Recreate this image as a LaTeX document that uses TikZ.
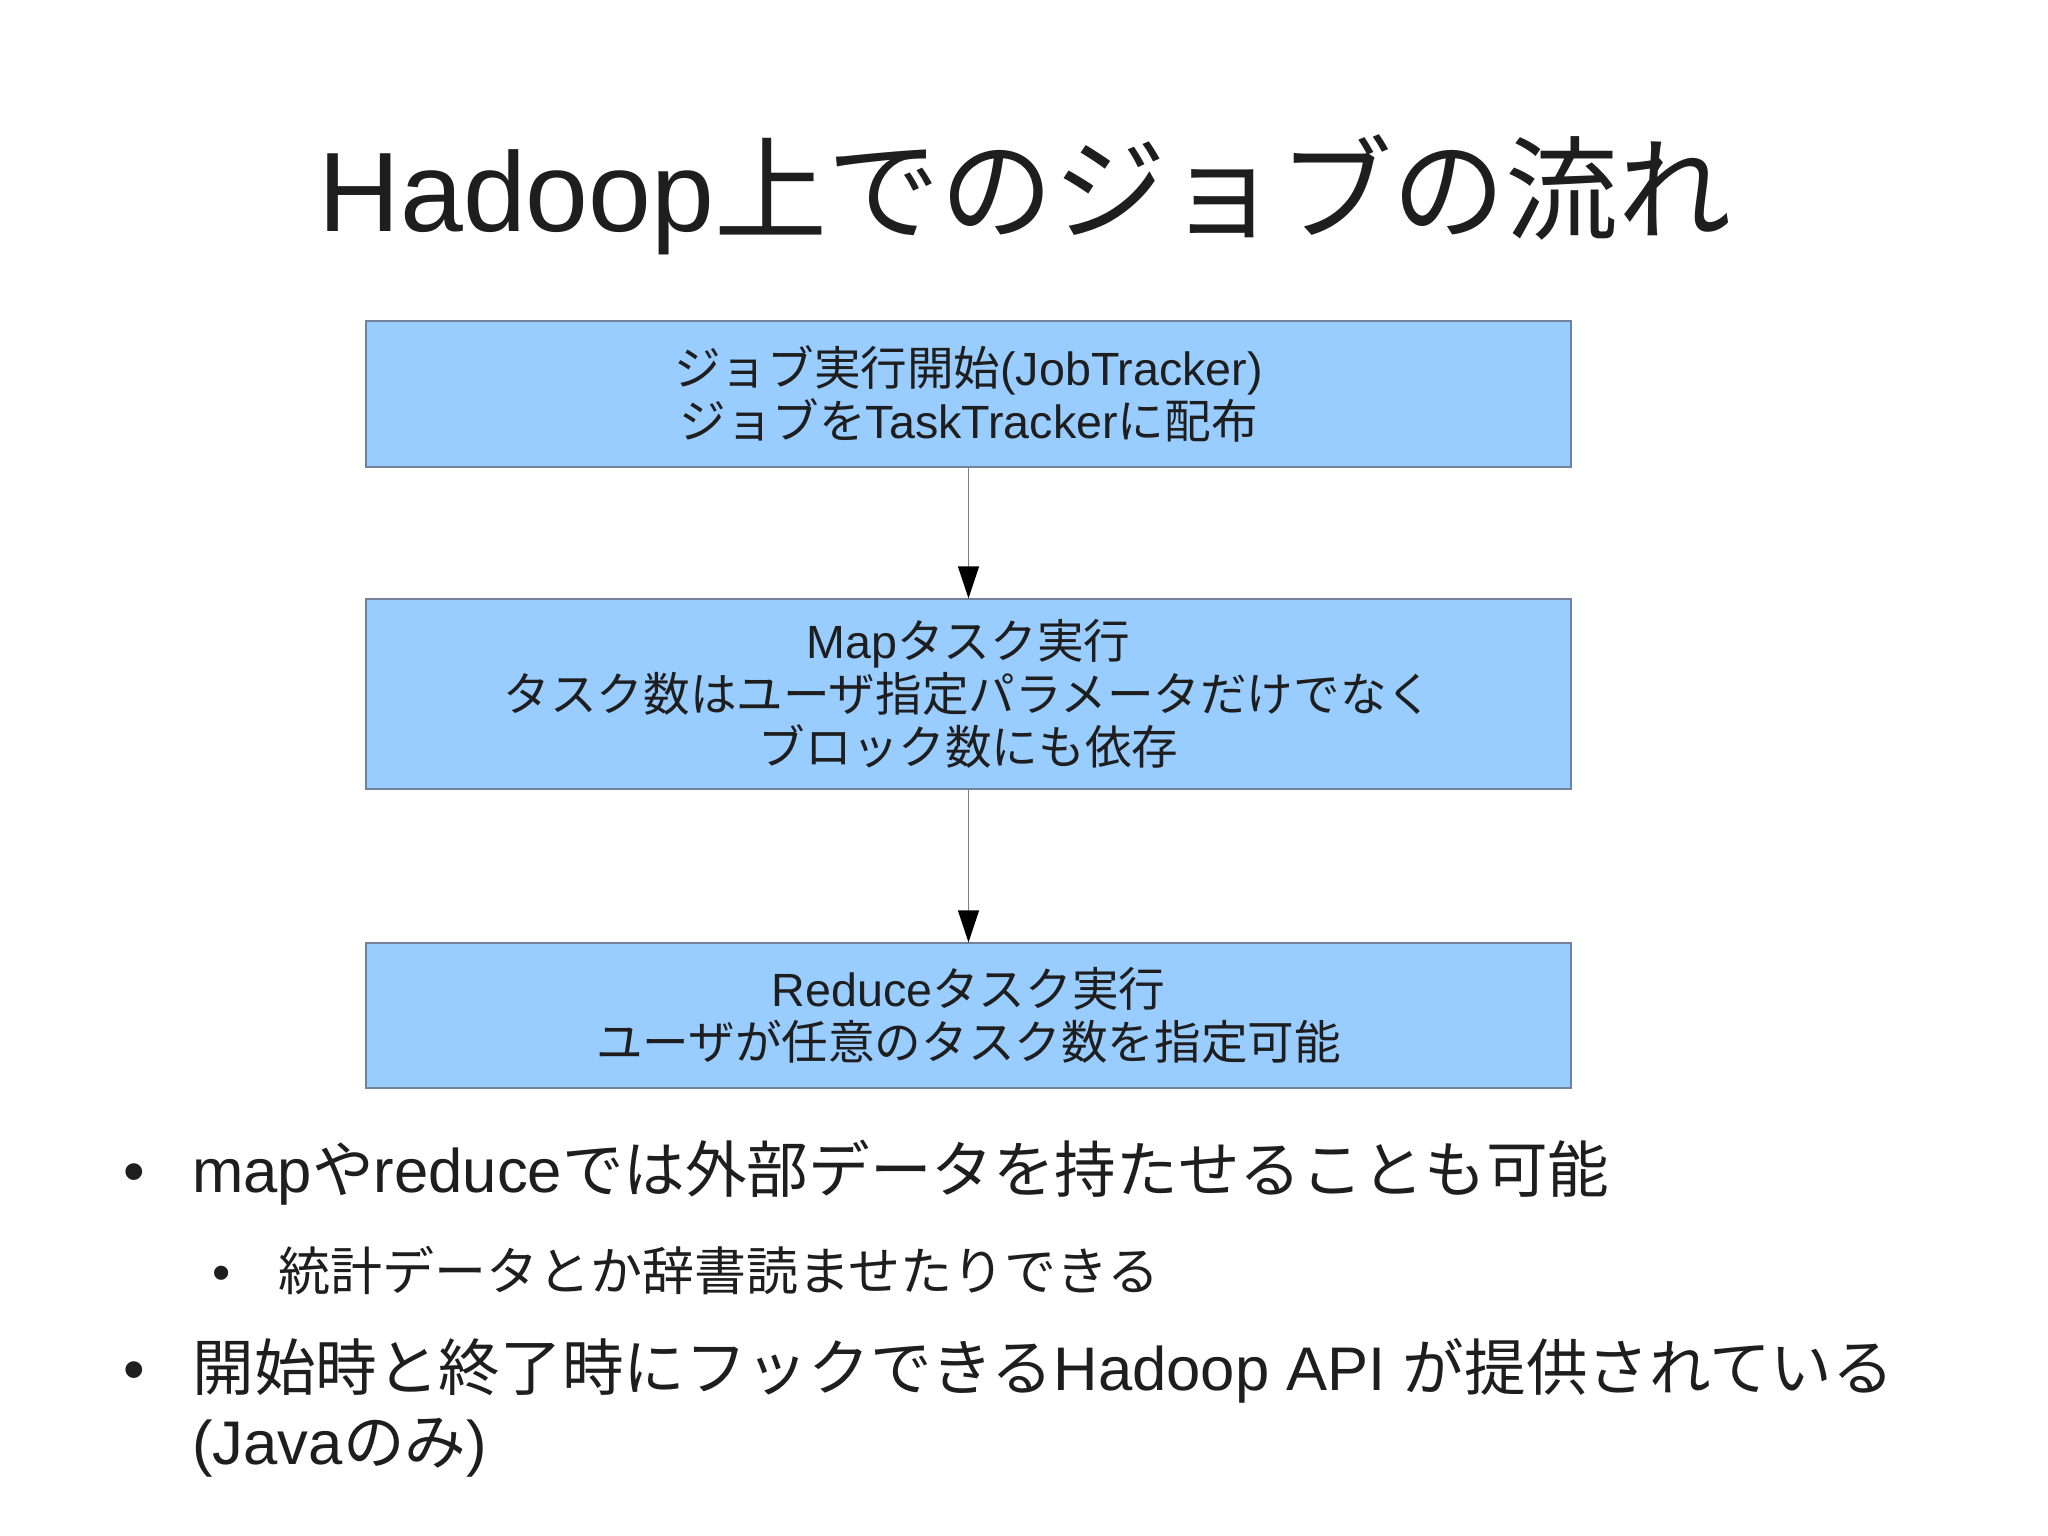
\documentclass[tikz,border=0pt]{standalone}
\usepackage{fontspec}
\setmainfont{Liberation Sans}
\newfontfamily\cjk{Noto Sans CJK JP}
\newcommand\J[1]{{\cjk #1}}
\usetikzlibrary{arrows.meta}
\definecolor{boxfill}{HTML}{99CCFF}
\definecolor{boxline}{HTML}{72829A}
\definecolor{txt}{HTML}{1E1E1E}
\definecolor{conncol}{HTML}{808080}
\tikzset{
  flowbox/.style={draw=boxline, fill=boxfill, line width=0.6pt, inner sep=0pt,
    minimum width=602.5pt, align=center, text=txt,
    font=\fontsize{23.3}{26.5}\selectfont},
  conn/.style={draw=conncol, line width=0.6pt,
    -{Triangle[length=16pt,width=10.5pt,color=black,fill=black]}},
  bigtext/.style={text=txt, inner sep=0pt, font=\fontsize{30.8}{37}\selectfont},
  smalltext/.style={text=txt, inner sep=0pt, font=\fontsize{26}{30}\selectfont}
}
\begin{document}
\begin{tikzpicture}[x=0.5pt,y=-0.5pt]
\useasboundingbox[fill=white] (0,0) rectangle (2048,1535);
\node[text=txt, inner sep=0pt, anchor=base, font=\fontsize{56.5}{60}\selectfont]
  (title) at (1025,232) {Hadoop\J{上でのジョブの流れ}};
\node[flowbox, minimum height=73pt] (b1) at (968.5,394)
  {\J{ジョブ実行開始}(JobTracker)\\\J{ジョブを}TaskTracker\J{に配布}};
\node[flowbox, minimum height=95pt] (b2) at (968.5,694)
  {Map\J{タスク実行}\\\J{タスク数はユーザ指定パラメータだけでなく}\\\J{ブロック数にも依存}};
\node[flowbox, minimum height=72.5pt] (b3) at (968.5,1015.5)
  {Reduce\J{タスク実行}\\\J{ユーザが任意のタスク数を指定可能}};
\draw[conn] (b1.south) -- (b2.north);
\draw[conn] (b2.south) -- (b3.north);
\node[bigtext, anchor=base] (d1) at (134,1192) {•};
\node[bigtext, anchor=base west] (t1) at (192,1192) {map\J{や}reduce\J{では外部データを持たせることも可能}};
\node[smalltext, anchor=base] (d2) at (222,1290) {•};
\node[smalltext, anchor=base west] (t2) at (278,1290) {\J{統計データとか辞書読ませたりできる}};
\node[bigtext, anchor=base] (d3) at (134,1390) {•};
\node[bigtext, anchor=base west] (t3) at (192,1390) {\J{開始時と終了時にフックできる}Hadoop API \J{が提供されている}};
\node[bigtext, anchor=base west] (t3b) at (192,1464) {(Java\J{のみ})};
\end{tikzpicture}
\end{document}
